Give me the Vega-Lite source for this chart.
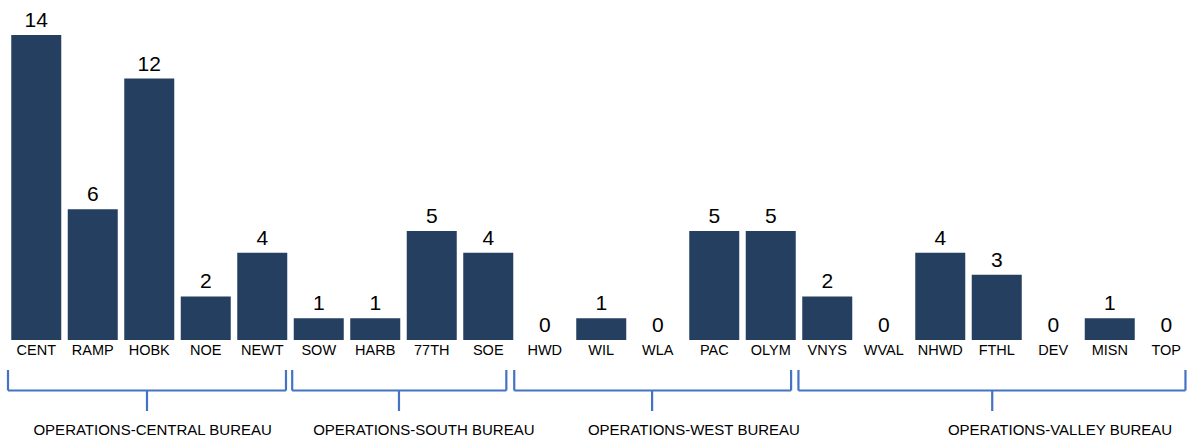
{
  "$schema": "https://vega.github.io/schema/vega-lite/v6.json",
  "width": 1179,
  "height": 407,
  "autosize": {"type": "none"},
  "padding": {"left": 8, "top": 35, "right": 0, "bottom": 0},
  "background": "white",
  "config": {"view": {"stroke": null}, "font": "Liberation Sans"},
  "datasets": {
    "stations": [
      {"station": "CENT", "bureau": "OPERATIONS-CENTRAL BUREAU", "count": 14},
      {"station": "RAMP", "bureau": "OPERATIONS-CENTRAL BUREAU", "count": 6},
      {"station": "HOBK", "bureau": "OPERATIONS-CENTRAL BUREAU", "count": 12},
      {"station": "NOE", "bureau": "OPERATIONS-CENTRAL BUREAU", "count": 2},
      {"station": "NEWT", "bureau": "OPERATIONS-CENTRAL BUREAU", "count": 4},
      {"station": "SOW", "bureau": "OPERATIONS-SOUTH BUREAU", "count": 1},
      {"station": "HARB", "bureau": "OPERATIONS-SOUTH BUREAU", "count": 1},
      {"station": "77TH", "bureau": "OPERATIONS-SOUTH BUREAU", "count": 5},
      {"station": "SOE", "bureau": "OPERATIONS-SOUTH BUREAU", "count": 4},
      {"station": "HWD", "bureau": "OPERATIONS-WEST BUREAU", "count": 0},
      {"station": "WIL", "bureau": "OPERATIONS-WEST BUREAU", "count": 1},
      {"station": "WLA", "bureau": "OPERATIONS-WEST BUREAU", "count": 0},
      {"station": "PAC", "bureau": "OPERATIONS-WEST BUREAU", "count": 5},
      {"station": "OLYM", "bureau": "OPERATIONS-WEST BUREAU", "count": 5},
      {"station": "VNYS", "bureau": "OPERATIONS-VALLEY BUREAU", "count": 2},
      {"station": "WVAL", "bureau": "OPERATIONS-VALLEY BUREAU", "count": 0},
      {"station": "NHWD", "bureau": "OPERATIONS-VALLEY BUREAU", "count": 4},
      {"station": "FTHL", "bureau": "OPERATIONS-VALLEY BUREAU", "count": 3},
      {"station": "DEV", "bureau": "OPERATIONS-VALLEY BUREAU", "count": 0},
      {"station": "MISN", "bureau": "OPERATIONS-VALLEY BUREAU", "count": 1},
      {"station": "TOP", "bureau": "OPERATIONS-VALLEY BUREAU", "count": 0}
    ],
    "bureaus": [
      {"bureau": "OPERATIONS-CENTRAL BUREAU", "left": 0.0, "right": 4.92, "tick": 2.46, "labelAt": 2.56},
      {"bureau": "OPERATIONS-SOUTH BUREAU", "left": 5.03, "right": 8.82, "tick": 6.92, "labelAt": 7.36},
      {"bureau": "OPERATIONS-WEST BUREAU", "left": 8.96, "right": 13.86, "tick": 11.4, "labelAt": 12.14},
      {"bureau": "OPERATIONS-VALLEY BUREAU", "left": 13.99, "right": 20.84, "tick": 17.42, "labelAt": 18.62}
    ]
  },
  "layer": [
    {
      "data": {"name": "stations"},
      "encoding": {
        "x": {
          "field": "station", "type": "nominal", "sort": null,
          "scale": {"range": [0, 1186.5], "paddingInner": 0.115, "paddingOuter": 0.0575},
          "axis": null
        }
      },
      "layer": [
        {
          "mark": {"type": "bar", "color": "#253f61"},
          "encoding": {
            "y": {"field": "count", "type": "quantitative", "scale": {"domain": [-4.682, 14], "nice": false, "zero": false}, "axis": null},
            "y2": {"datum": 0}
          }
        },
        {
          "mark": {"type": "text", "fontSize": 21, "baseline": "alphabetic", "dy": -8, "color": "#000000"},
          "encoding": {
            "y": {"field": "count", "type": "quantitative"},
            "text": {"field": "count", "type": "quantitative"}
          }
        },
        {
          "mark": {"type": "text", "fontSize": 14.5, "baseline": "middle", "color": "#000000", "letterSpacing": -0.5},
          "encoding": {
            "y": {"datum": -0.52},
            "text": {"field": "station", "type": "nominal"}
          }
        }
      ]
    },
    {
      "data": {"name": "bureaus"},
      "encoding": {
        "x": {"field": "left", "type": "quantitative", "scale": {"domain": [0, 21], "range": [0, 1186.5], "nice": false, "zero": false}, "axis": null}
      },
      "layer": [
        {
          "mark": {"type": "rule", "color": "#4472c4", "strokeWidth": 2.2},
          "encoding": {
            "x2": {"field": "right"},
            "y": {"datum": -2.318}
          }
        },
        {
          "mark": {"type": "rule", "color": "#4472c4", "strokeWidth": 2.2},
          "encoding": {
            "y": {"datum": -1.377},
            "y2": {"datum": -2.318}
          }
        },
        {
          "mark": {"type": "rule", "color": "#4472c4", "strokeWidth": 2.2},
          "encoding": {
            "x": {"field": "right", "type": "quantitative"},
            "y": {"datum": -1.377},
            "y2": {"datum": -2.318}
          }
        },
        {
          "mark": {"type": "rule", "color": "#4472c4", "strokeWidth": 2.2},
          "encoding": {
            "x": {"field": "tick", "type": "quantitative"},
            "y": {"datum": -2.318},
            "y2": {"datum": -3.259}
          }
        },
        {
          "mark": {"type": "text", "fontSize": 15, "baseline": "middle", "color": "#000000"},
          "encoding": {
            "x": {"field": "labelAt", "type": "quantitative"},
            "y": {"datum": -4.154},
            "text": {"field": "bureau", "type": "nominal"}
          }
        }
      ]
    }
  ],
  "resolve": {"scale": {"x": "independent"}}
}
